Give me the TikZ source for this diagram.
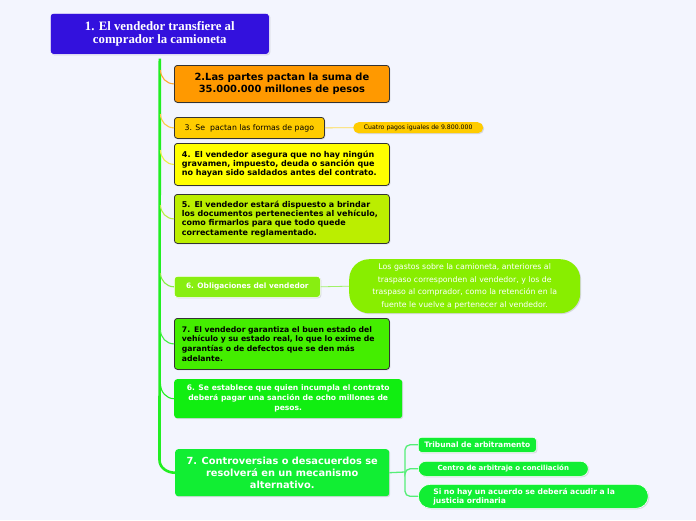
\documentclass[tikz,border=0pt]{standalone}
\usepackage{fontspec}
\setmainfont{DejaVu Sans}
\newfontfamily\rootfont{Liberation Serif}
\usetikzlibrary{shadows}
\definecolor{bg}{HTML}{F3F5FE}
\definecolor{rootc}{HTML}{3311DD}
\definecolor{c2}{HTML}{FF9900}
\definecolor{c3}{HTML}{FFCC00}
\definecolor{c4}{HTML}{FFFF00}
\definecolor{c5}{HTML}{BBEE00}
\definecolor{c6}{HTML}{88EE11}
\definecolor{cblob}{HTML}{88EE00}
\definecolor{c7}{HTML}{44EE00}
\definecolor{c8}{HTML}{11EE11}
\definecolor{c9}{HTML}{11EE33}
\definecolor{trunkc}{HTML}{22EE22}
\definecolor{l2}{HTML}{FFAA33}
\definecolor{l3}{HTML}{FFCC44}
\definecolor{l4}{HTML}{EEEE44}
\definecolor{l5}{HTML}{BBEE44}
\definecolor{l6}{HTML}{88EE44}
\definecolor{l7}{HTML}{44EE44}
\definecolor{l8}{HTML}{22EE22}
\definecolor{lc}{HTML}{55EE77}
\definecolor{edge}{HTML}{333333}
\tikzset{
  box/.style={anchor=north west, inner sep=0pt, rounded corners=3pt,
    drop shadow={shadow xshift=1pt, shadow yshift=-1pt, opacity=0.25}},
  darkbox/.style={box, draw=edge, line width=0.8pt},
  lightbox/.style={box, draw=white, line width=0.6pt},
  trunk/.style={draw=trunkc, line width=2.6pt},
  branch/.style={line width=1.1pt},
  side/.style={line width=0.8pt},
}
\begin{document}
\begin{tikzpicture}[x=1pt,y=-1pt]
\fill[bg] (0,0) rectangle (696,520);
\useasboundingbox (0,0) rectangle (696,520);

% root
\node[box, fill=rootc, draw=white, line width=0.6pt, minimum width=219pt, minimum height=41pt,
  text=white, align=center, font=\rootfont\bfseries\fontsize{12.8}{13.2}\selectfont] (root) at (50,13)
  {1. El vendedor transfiere al\\comprador la camioneta};

% main boxes
\node[darkbox, fill=c2, minimum width=215pt, minimum height=37pt, align=center,
  font=\bfseries\fontsize{9.9}{12.5}\selectfont] (n2) at (174,65)
  {2.Las partes pactan la suma de\\35.000.000 millones de pesos};
\node[darkbox, fill=c3, minimum width=150pt, minimum height=21pt, align=center,
  font=\fontsize{7.8}{9}\selectfont] (n3) at (174,117)
  {3. Se~ pactan las formas de pago};
\node[box, fill=c3, rounded corners=5.5pt, minimum width=130pt, minimum height=11pt,
  font=\fontsize{6.2}{7}\selectfont, drop shadow={opacity=0}] (p3) at (353,122)
  {Cuatro pagos iguales de 9.800.000};
\node[darkbox, fill=c4, minimum width=215pt, minimum height=42pt, text width=200pt, align=left,
  font=\bfseries\fontsize{8.05}{8.8}\selectfont] (n4) at (174,143)
  {4. El vendedor asegura que no hay ningún\\gravamen, impuesto, deuda o sanción que\\no hayan sido saldados antes del contrato.};
\node[darkbox, fill=c5, minimum width=215pt, minimum height=49pt, text width=200pt, align=left,
  font=\bfseries\fontsize{8.0}{9.3}\selectfont] (n5) at (174,194)
  {5. El vendedor estará dispuesto a brindar\\los documentos pertenecientes al vehículo,\\como firmarlos para que todo quede\\correctamente reglamentado.};
\node[lightbox, fill=c6, minimum width=146pt, minimum height=21pt, align=center, text=white,
  font=\bfseries\fontsize{7.4}{9}\selectfont] (n6) at (174,276)
  {6. Obligaciones del vendedor};
\node[box, fill=cblob, rounded corners=20pt, minimum width=231pt, minimum height=54pt, align=center, text=white,
  font=\fontsize{7.8}{12.7}\selectfont, drop shadow={opacity=0}] (blob) at (349,259)
  {Los gastos sobre la camioneta, anteriores al\\traspaso corresponden al vendedor, y los de\\traspaso al comprador, como la retención en la\\fuente le vuelve a pertenecer al vendedor.};
\node[darkbox, fill=c7, minimum width=215pt, minimum height=51pt, text width=200pt, align=left,
  font=\bfseries\fontsize{7.7}{9.7}\selectfont] (n7) at (174,318)
  {7. El vendedor garantiza el buen estado del\\vehículo y su estado real, lo que lo exime de\\garantías o de defectos que se den más\\adelante.};
\node[box, fill=c8, minimum width=228pt, minimum height=39pt, align=center, text=white,
  font=\bfseries\fontsize{7.6}{10}\selectfont] (n8) at (174,379)
  {6. Se establece que quien incumpla el contrato\\deberá pagar una sanción de ocho millones de\\pesos.};
\node[box, fill=c9, minimum width=214pt, minimum height=47pt, align=center, text=white,
  font=\bfseries\fontsize{9.8}{12}\selectfont] (n9) at (175,449)
  {7. Controversias o desacuerdos se\\resolverá en un mecanismo\\alternativo.};

% children of n9
\node[lightbox, fill=c9, minimum width=118pt, minimum height=15pt, text=white,
  font=\bfseries\fontsize{7.5}{9}\selectfont] (k1) at (418,437) {Tribunal de arbitramento};
\node[lightbox, fill=c9, rounded corners=7.5pt, minimum width=170pt, minimum height=15pt, text=white,
  font=\bfseries\fontsize{7}{9}\selectfont] (k2) at (418,461) {Centro de arbitraje o conciliación};
\node[lightbox, fill=c9, rounded corners=12pt, minimum width=230pt, minimum height=24pt, text=white,
  text width=200pt, align=left, font=\bfseries\fontsize{7.6}{9}\selectfont] (k3) at (418,484)
  {Si no hay un acuerdo se deberá acudir a la\\justicia ordinaria};

% trunk
\coordinate (tb) at (159.5,460);
\draw[trunk] ([yshift=-4pt]root.south) -- (tb) to[out=-90,in=180] (n9.west);

% branches
\coordinate (b2) at (160.5,70);
\coordinate (b3) at (160.5,114);
\coordinate (b4) at (160.5,150);
\coordinate (b5) at (160.5,205);
\coordinate (b6) at (160.5,273);
\coordinate (b7) at (160.5,330);
\coordinate (b8) at (160.5,384);
\draw[branch, draw=l2] (b2) to[out=-90,in=180] (n2.west);
\draw[branch, draw=l3] (b3) to[out=-90,in=180] (n3.west);
\draw[branch, draw=l4] (b4) to[out=-90,in=180] (n4.west);
\draw[branch, draw=l5] (b5) to[out=-90,in=180] (n5.west);
\draw[branch, draw=l6] (b6) to[out=-90,in=180] (n6.west);
\draw[branch, draw=l7] (b7) to[out=-90,in=180] (n7.west);
\draw[branch, draw=l8] (b8) to[out=-90,in=180] (n8.west);

% side links
\draw[side, draw=c3!70] (n3.east) -- (p3.west);
\draw[side, draw=l6!80] (n6.east) -- (blob.west);

% bracket
\coordinate (j) at (405,472);
\draw[side, draw=lc, line width=1.3pt] (n9.east) -- (j);
\draw[side, draw=lc, line width=1.3pt, rounded corners=5pt] (k1.west) -| (j);
\draw[side, draw=lc, line width=1.3pt, rounded corners=5pt] (k3.west) -| (j);
\draw[side, draw=lc, line width=1.3pt, rounded corners=5pt] (k2.west) -| (j);
\end{tikzpicture}
\end{document}
